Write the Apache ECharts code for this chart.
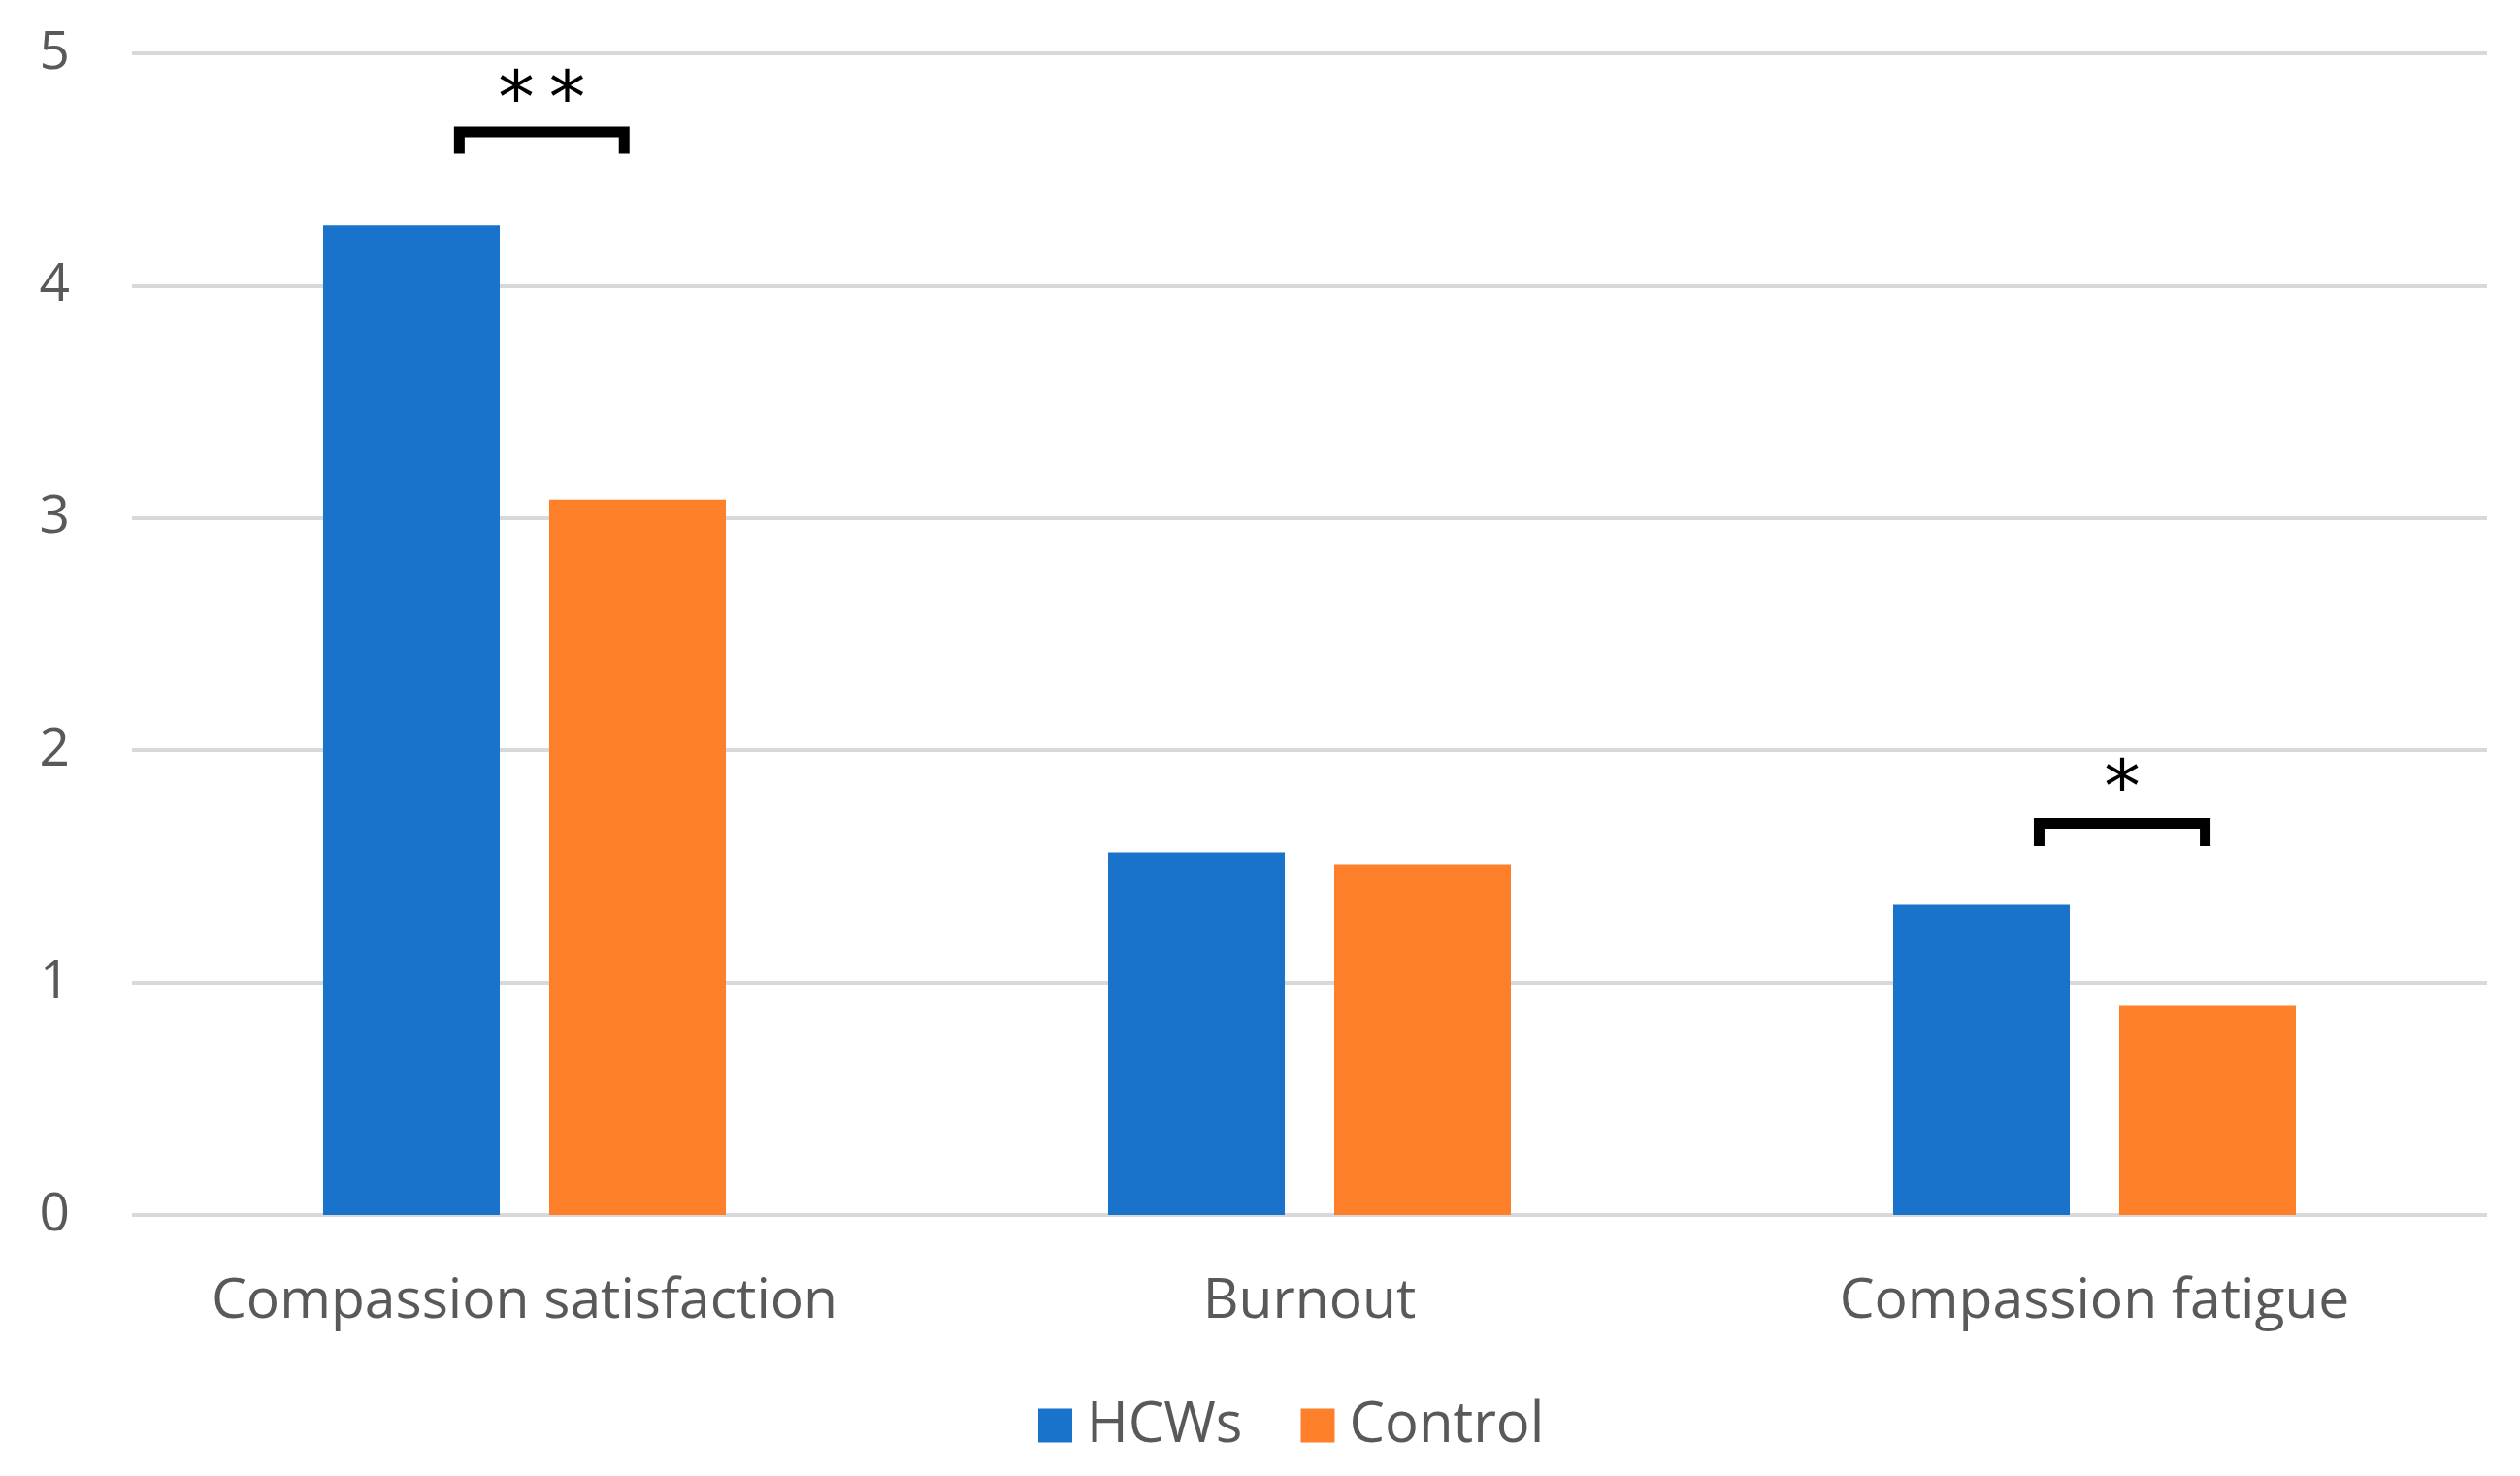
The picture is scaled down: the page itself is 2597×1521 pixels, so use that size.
<!DOCTYPE html>
<html>
<head>
<meta charset="utf-8">
<script src="https://cdn.jsdelivr.net/npm/echarts@6/dist/echarts.min.js"></script>
<style>
html,body{margin:0;padding:0;background:#fff;}
#chart{width:2597px;height:1521px;}
</style>
</head>
<body>
<div id="chart"></div>
<script>
var categories = ['Compassion satisfaction', 'Burnout', 'Compassion fatigue'];
var hcwsValues = [4.26, 1.56, 1.335];
var controlValues = [3.08, 1.51, 0.90];
var yTicks = [0, 1, 2, 3, 4, 5];

// significance annotations: category index, bracket top, leg bottom, star level, start/end offset (fraction of category band)
var sigCategory = [0, 2];
var sigTop = [4.662, 1.685];
var sigLegBottom = [4.568, 1.587];
var sigStarY = [4.785, 1.82];
var sigStart = [-0.083, -0.0705];
var sigEnd = [0.127, 0.141];
var sigLabel = ['*\u2009*', '*'];

var sigData = sigCategory.map(function (c, i) {
  return [c, sigTop[i], sigLegBottom[i], sigStarY[i], sigStart[i], sigEnd[i]];
});

var FONT = 'Open Sans';
var chart = echarts.init(document.getElementById('chart'));
chart.setOption({
  backgroundColor: '#ffffff',
  animation: false,
  grid: { left: 136, right: 34, top: 55, bottom: 269 },
  legend: {
    data: ['HCWs', 'Control'],
    bottom: 18,
    left: 1065,
    icon: 'rect',
    itemWidth: 35,
    itemHeight: 35,
    itemGap: 60,
    textStyle: { fontFamily: FONT, fontSize: 58, color: '#595959', padding: [0, 0, 0, 10] }
  },
  xAxis: {
    type: 'category',
    data: categories,
    axisLine: { show: false },
    axisTick: { show: false },
    axisLabel: { interval: 0, hideOverlap: false, fontFamily: FONT, fontSize: 57, color: '#595959', margin: 61 }
  },
  yAxis: {
    type: 'value',
    min: yTicks[0],
    max: yTicks[yTicks.length - 1],
    interval: 1,
    axisLine: { show: false },
    axisTick: { show: false },
    axisLabel: { fontFamily: FONT, fontSize: 55, color: '#595959', margin: 64 },
    splitLine: { lineStyle: { color: '#d9d9d9', width: 4 } }
  },
  series: [
    {
      name: 'HCWs', type: 'bar', data: hcwsValues,
      barWidth: '22.5%', barGap: '28%',
      itemStyle: { color: '#1A73CA' }
    },
    {
      name: 'Control', type: 'bar', data: controlValues,
      barWidth: '22.5%', barGap: '28%',
      itemStyle: { color: '#FE7F2A' }
    },
    {
      name: 'sig', type: 'custom', data: sigData,
      encode: { x: 0, y: 1 },
      clip: false, silent: true, z: 10,
      renderItem: function (params, api) {
        var cat = api.value(0);
        var top = api.coord([cat, api.value(1)]);
        var bot = api.coord([cat, api.value(2)]);
        var star = api.coord([cat, api.value(3)]);
        var band = api.size([1, 0])[0];
        var x1 = top[0] + api.value(4) * band;
        var x2 = top[0] + api.value(5) * band;
        return {
          type: 'group',
          children: [
            {
              type: 'polyline',
              shape: { points: [[x1, bot[1]], [x1, top[1]], [x2, top[1]], [x2, bot[1]]] },
              style: { stroke: '#000', lineWidth: 11, fill: null, lineJoin: 'miter', lineCap: 'butt' }
            },
            {
              type: 'text',
              style: {
                text: sigLabel[params.dataIndex],
                x: (x1 + x2) / 2, y: star[1],
                align: 'center', verticalAlign: 'middle',
                font: '75px "DejaVu Sans"', fill: '#000'
              }
            }
          ]
        };
      }
    }
  ]
});
</script>
</body>
</html>
